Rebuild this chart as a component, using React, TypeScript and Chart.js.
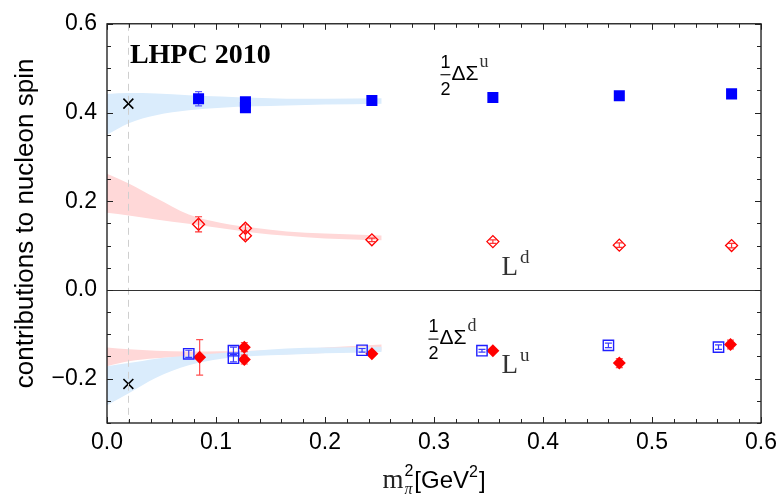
import React, { useEffect, useRef } from "react";
import { Chart, registerables } from "chart.js";

Chart.register(...registerables);

// ---- axis ticks ----
const xTickValues = [0, 0.1, 0.2, 0.3, 0.4, 0.5, 0.6];
const xTickLabels = ["0.0", "0.1", "0.2", "0.3", "0.4", "0.5", "0.6"];
const yTickValues = [-0.2, 0, 0.2, 0.4, 0.6];
const yTickLabels = ["\u22120.2", "0.0", "0.2", "0.4", "0.6"];

// ---- physical point ----
const physicalX = [0.0196, 0.0196];
const physicalY = [0.42, -0.212];

// ---- 1/2 ΔΣ^u (filled blue squares) ----
const sigmaUX = [0.084, 0.127, 0.127, 0.243, 0.354, 0.47, 0.573];
const sigmaUY = [0.431, 0.424, 0.411, 0.427, 0.434, 0.438, 0.442];
const sigmaUErr = [0.016, 0.005, 0.005, 0.004, 0.004, 0.004, 0.004];

// ---- L^d (open red diamonds) ----
const lDX = [0.084, 0.127, 0.127, 0.243, 0.354, 0.47, 0.573];
const lDY = [0.148, 0.139, 0.122, 0.113, 0.109, 0.101, 0.1];
const lDErr = [0.017, 0.008, 0.008, 0.004, 0.004, 0.005, 0.005];

// ---- 1/2 ΔΣ^d (open blue squares) ----
const sigmaDX = [0.075, 0.116, 0.116, 0.234, 0.344, 0.46, 0.561];
const sigmaDY = [-0.144, -0.137, -0.154, -0.136, -0.137, -0.125, -0.129];
const sigmaDErr = [0.008, 0.008, 0.008, 0.004, 0.003, 0.005, 0.005];

// ---- L^u (filled red diamonds) ----
const lUX = [0.085, 0.126, 0.126, 0.243, 0.354, 0.47, 0.572];
const lUY = [-0.152, -0.129, -0.157, -0.144, -0.137, -0.165, -0.123];
const lUErr = [0.04, 0.01, 0.01, 0.004, 0.004, 0.01, 0.01];

// ---- chiral fit bands ----
const bandX = [0, 0.02, 0.045, 0.075, 0.105, 0.135, 0.165, 0.2, 0.252];
const sigmaUUpper = [0.442, 0.444, 0.443, 0.439, 0.436, 0.433, 0.431, 0.431, 0.432];
const sigmaULower = [0.35, 0.376, 0.394, 0.405, 0.411, 0.414, 0.416, 0.418, 0.42];
const lDUpper = [0.262, 0.24, 0.207, 0.17, 0.151, 0.14, 0.132, 0.127, 0.123];
const lDLower = [0.174, 0.168, 0.159, 0.149, 0.139, 0.129, 0.122, 0.116, 0.112];
const sigmaDUpper = [-0.172, -0.165, -0.155, -0.148, -0.142, -0.137, -0.132, -0.13, -0.128];
const sigmaDLower = [-0.26, -0.233, -0.198, -0.17, -0.155, -0.149, -0.146, -0.143, -0.14];
const lUUpper = [-0.13, -0.134, -0.137, -0.139, -0.138, -0.137, -0.135, -0.13, -0.123];
const lULower = [-0.172, -0.161, -0.154, -0.15, -0.148, -0.146, -0.145, -0.142, -0.137];

// ---- annotation anchors (data coordinates) ----
const titleText = "LHPC 2010";
const titlePos = [0.021, 0.512];
const sigmaULabelPos = [0.305, 0.474];
const sigmaDLabelPos = [0.294, -0.122];
const lDLabelPos = [0.362, 0.033];
const lULabelPos = [0.362, -0.187];
const yTitle = "contributions to nucleon spin";

const SANS = '"Liberation Sans", Arial, Helvetica, sans-serif';
const SERIF = '"Liberation Serif", "Times New Roman", serif';

const BLUE = "#0000ff";
const RED = "#ff0000";
const BLUE_BAND = "rgb(218,236,252)";
const RED_BAND = "rgb(255,216,216)";

const pts = (xs: number[], ys: number[]) => xs.map((x, i) => ({ x, y: ys[i] }));

function drawFraction(ctx: CanvasRenderingContext2D, left: number, base: number, sup: string) {
  ctx.save();
  ctx.textBaseline = "alphabetic";
  ctx.font = `18px ${SANS}`;
  const w = ctx.measureText("2").width;
  const bar = base - 5;
  ctx.fillStyle = "#000";
  ctx.textAlign = "center";
  const cx = left + w / 2 + 1;
  ctx.fillText("1", cx, bar - 7);
  ctx.fillText("2", cx, bar + 20);
  ctx.fillRect(left + 1, bar - 0.5, w, 1.1);
  ctx.textAlign = "left";
  ctx.font = `21px ${SANS}`;
  const x2 = left + w + 2;
  ctx.fillText("\u0394\u03a3", x2, base);
  const wd = ctx.measureText("\u0394\u03a3").width;
  ctx.font = `18px ${SERIF}`;
  ctx.fillStyle = "#333";
  ctx.fillText(sup, x2 + wd + 1, base - 13);
  ctx.restore();
}

function drawL(ctx: CanvasRenderingContext2D, left: number, base: number, sup: string) {
  ctx.save();
  ctx.textBaseline = "alphabetic";
  ctx.textAlign = "left";
  ctx.fillStyle = "#333";
  ctx.font = `27px ${SERIF}`;
  ctx.fillText("L", left, base);
  const w = ctx.measureText("L").width;
  ctx.font = `19px ${SERIF}`;
  ctx.fillText(sup, left + w + 2, base - 12);
  ctx.restore();
}

function drawXTitle(ctx: CanvasRenderingContext2D, cx: number, base: number) {
  ctx.save();
  ctx.textBaseline = "alphabetic";
  ctx.textAlign = "left";
  const mFont = `27px ${SERIF}`;
  const piFont = `italic 16px ${SERIF}`;
  const supFont = `16px ${SANS}`;
  const mainFont = `24px ${SANS}`;
  ctx.font = mFont;
  const wm = ctx.measureText("m").width;
  ctx.font = piFont;
  const wpi = ctx.measureText("\u03c0").width;
  ctx.font = supFont;
  const w2 = ctx.measureText("2").width;
  ctx.font = mainFont;
  const wg = ctx.measureText("[GeV").width;
  const wb = ctx.measureText("]").width;
  const total = wm + 1 + Math.max(wpi, w2) + 1 + wg + w2 + 1 + wb;
  let x = cx - total / 2;
  ctx.fillStyle = "#222";
  ctx.font = mFont;
  ctx.fillText("m", x, base);
  x += wm + 1;
  ctx.font = piFont;
  ctx.fillText("\u03c0", x, base + 6);
  ctx.fillStyle = "#000";
  ctx.font = supFont;
  ctx.fillText("2", x, base - 12);
  x += Math.max(wpi, w2) + 1;
  ctx.font = mainFont;
  ctx.fillText("[GeV", x, base);
  x += wg;
  ctx.font = supFont;
  ctx.fillText("2", x, base - 11);
  x += w2 + 1;
  ctx.font = mainFont;
  ctx.fillText("]", x, base);
  ctx.restore();
}

type ErrSeries = { ds: number; xs: number[]; ys: number[]; err: number[]; color: string; under: boolean };

function drawErrors(ctx: CanvasRenderingContext2D, x: any, y: any, s: ErrSeries) {
  ctx.save();
  ctx.strokeStyle = s.color;
  ctx.lineWidth = 1.2;
  s.xs.forEach((xv, i) => {
    const cx = x.getPixelForValue(xv);
    const y1 = y.getPixelForValue(s.ys[i] + s.err[i]);
    const y2 = y.getPixelForValue(s.ys[i] - s.err[i]);
    ctx.beginPath();
    ctx.moveTo(cx, y1);
    ctx.lineTo(cx, y2);
    ctx.moveTo(cx - 3.5, y1);
    ctx.lineTo(cx + 3.5, y1);
    ctx.moveTo(cx - 3.5, y2);
    ctx.lineTo(cx + 3.5, y2);
    ctx.stroke();
  });
  ctx.restore();
}

export default function App() {
  const ref = useRef<HTMLCanvasElement>(null);

  useEffect(() => {
    const canvas = ref.current;
    if (!canvas) return;

    const errorSeries: ErrSeries[] = [
      { ds: 1, xs: sigmaUX, ys: sigmaUY, err: sigmaUErr, color: "rgba(80,80,255,0.9)", under: true },
      { ds: 2, xs: lDX, ys: lDY, err: lDErr, color: "rgba(255,30,30,0.9)", under: false },
      { ds: 3, xs: sigmaDX, ys: sigmaDY, err: sigmaDErr, color: "rgba(40,40,255,0.9)", under: false },
      { ds: 4, xs: lUX, ys: lUY, err: lUErr, color: "rgba(255,50,50,0.85)", under: true },
    ];

    const decor = {
      id: "decor",
      beforeDatasetDraw(chart: any, args: any) {
        const { ctx, scales } = chart;
        for (const s of errorSeries) {
          if (s.under && s.ds === args.index) drawErrors(ctx, scales.x, scales.y, s);
        }
      },
      afterDatasetsDraw(chart: any) {
        const { ctx, chartArea: a, scales } = chart;
        const x = scales.x;
        const y = scales.y;
        ctx.save();

        // dashed line at physical pion mass
        const px = Math.round(x.getPixelForValue(physicalX[0])) + 0.5;
        ctx.strokeStyle = "#cfcfcf";
        ctx.lineWidth = 1;
        ctx.setLineDash([7, 5]);
        ctx.beginPath();
        ctx.moveTo(px, a.top);
        ctx.lineTo(px, a.bottom);
        ctx.stroke();
        ctx.setLineDash([]);

        // zero line
        const py0 = Math.round(y.getPixelForValue(0)) + 0.5;
        ctx.strokeStyle = "#333";
        ctx.lineWidth = 1.2;
        ctx.beginPath();
        ctx.moveTo(a.left, py0);
        ctx.lineTo(a.right, py0);
        ctx.stroke();

        // error bars for open markers
        for (const s of errorSeries) {
          if (!s.under) drawErrors(ctx, x, y, s);
        }

        // frame
        ctx.strokeStyle = "#000";
        ctx.lineWidth = 1.2;
        ctx.strokeRect(a.left, a.top, a.right - a.left, a.bottom - a.top);

        // ticks (inside)
        ctx.strokeStyle = "#222";
        ctx.lineWidth = 1;
        ctx.beginPath();
        for (let i = 0; i <= 30; i++) {
          const v = i * 0.02;
          const len = i % 5 === 0 ? 6 : 4;
          const tx = Math.round(x.getPixelForValue(v)) + 0.5;
          ctx.moveTo(tx, a.bottom);
          ctx.lineTo(tx, a.bottom - len);
          ctx.moveTo(tx, a.top);
          ctx.lineTo(tx, a.top + len);
        }
        for (let i = 0; i <= 18; i++) {
          const v = -0.3 + i * 0.05;
          const len = (i - 2) % 4 === 0 ? 6 : 4;
          const ty = Math.round(y.getPixelForValue(v)) + 0.5;
          ctx.moveTo(a.left, ty);
          ctx.lineTo(a.left + len, ty);
          ctx.moveTo(a.right, ty);
          ctx.lineTo(a.right - len, ty);
        }
        ctx.stroke();

        // title
        ctx.fillStyle = "#000";
        ctx.font = `bold 28px ${SERIF}`;
        ctx.textAlign = "left";
        ctx.textBaseline = "alphabetic";
        ctx.fillText(titleText, x.getPixelForValue(titlePos[0]), y.getPixelForValue(titlePos[1]));

        drawFraction(ctx, x.getPixelForValue(sigmaULabelPos[0]), y.getPixelForValue(sigmaULabelPos[1]), "u");
        drawFraction(ctx, x.getPixelForValue(sigmaDLabelPos[0]), y.getPixelForValue(sigmaDLabelPos[1]), "d");
        drawL(ctx, x.getPixelForValue(lDLabelPos[0]), y.getPixelForValue(lDLabelPos[1]), "d");
        drawL(ctx, x.getPixelForValue(lULabelPos[0]), y.getPixelForValue(lULabelPos[1]), "u");

        drawXTitle(ctx, (a.left + a.right) / 2, a.bottom + 65);
        ctx.restore();
      },
    };

    const band = (upper: number[], lower: number[], color: string, order: number) => [
      {
        type: "line",
        data: pts(bandX, lower),
        borderWidth: 0,
        borderColor: "rgba(0,0,0,0)",
        pointRadius: 0,
        fill: false,
        tension: 0.4,
        cubicInterpolationMode: "monotone",
        order,
      },
      {
        type: "line",
        data: pts(bandX, upper),
        borderWidth: 0,
        borderColor: "rgba(0,0,0,0)",
        backgroundColor: color,
        pointRadius: 0,
        fill: "-1",
        tension: 0.4,
        cubicInterpolationMode: "monotone",
        order,
      },
    ];

    const chart = new Chart(canvas, {
      type: "scatter",
      data: {
        datasets: [
          {
            data: pts(physicalX, physicalY),
            pointStyle: "crossRot",
            pointRadius: 7,
            borderColor: "#000",
            borderWidth: 1.6,
            order: 1,
          },
          {
            data: pts(sigmaUX, sigmaUY),
            pointStyle: "rect",
            pointRadius: 7.8,
            backgroundColor: BLUE,
            borderColor: BLUE,
            borderWidth: 0,
            order: 1,
          },
          {
            data: pts(lDX, lDY),
            pointStyle: "rectRot",
            pointRadius: 6,
            backgroundColor: "rgba(0,0,0,0)",
            borderColor: RED,
            borderWidth: 1.3,
            order: 1,
          },
          {
            data: pts(sigmaDX, sigmaDY),
            pointStyle: "rect",
            pointRadius: 7.3,
            backgroundColor: "rgba(0,0,0,0)",
            borderColor: "#1f1fff",
            borderWidth: 1.4,
            order: 1,
          },
          {
            data: pts(lUX, lUY),
            pointStyle: "rectRot",
            pointRadius: 6.5,
            backgroundColor: RED,
            borderColor: RED,
            borderWidth: 0,
            order: 1,
          },
          ...band(lDUpper, lDLower, RED_BAND, 5),
          ...band(sigmaUUpper, sigmaULower, BLUE_BAND, 5),
          ...band(lUUpper, lULower, RED_BAND, 6),
          ...band(sigmaDUpper, sigmaDLower, BLUE_BAND, 5),
        ] as any,
      },
      options: {
        animation: false,
        responsive: false,
        devicePixelRatio: 1,
        layout: { padding: { top: 16, right: 20, left: 0, bottom: 0 } },
        plugins: {
          legend: { display: false },
          tooltip: { enabled: false },
        },
        elements: { line: { borderWidth: 0 } },
        scales: {
          x: {
            type: "linear",
            min: 0,
            max: 0.6,
            grid: { display: false, drawTicks: false },
            border: { display: false },
            afterBuildTicks: (s: any) => {
              s.ticks = xTickValues.map((v) => ({ value: v }));
            },
            afterFit: (s: any) => {
              s.height = 80;
            },
            ticks: {
              autoSkip: false,
              maxRotation: 0,
              padding: 6,
              color: "#000",
              font: { family: SANS, size: 23 },
              callback: (_v: any, i: number) => xTickLabels[i],
            },
          },
          y: {
            type: "linear",
            min: -0.3,
            max: 0.6,
            grid: { display: false, drawTicks: false },
            border: { display: false },
            afterBuildTicks: (s: any) => {
              s.ticks = yTickValues.map((v) => ({ value: v }));
            },
            afterFit: (s: any) => {
              s.width = 107;
            },
            ticks: {
              autoSkip: false,
              padding: 10,
              color: "#000",
              font: { family: SANS, size: 23 },
              callback: (_v: any, i: number) => yTickLabels[i],
            },
            title: {
              display: true,
              text: yTitle,
              color: "#000",
              font: { family: SANS, size: 26 },
              padding: { top: 10, bottom: 0 },
            },
          },
        },
      },
      plugins: [decor],
    } as any);

    return () => chart.destroy();
  }, []);

  return (
    <div style={{ position: "absolute", left: 0, top: 0, width: 783, height: 503, background: "#fff" }}>
      <canvas ref={ref} width={783} height={503} />
    </div>
  );
}
